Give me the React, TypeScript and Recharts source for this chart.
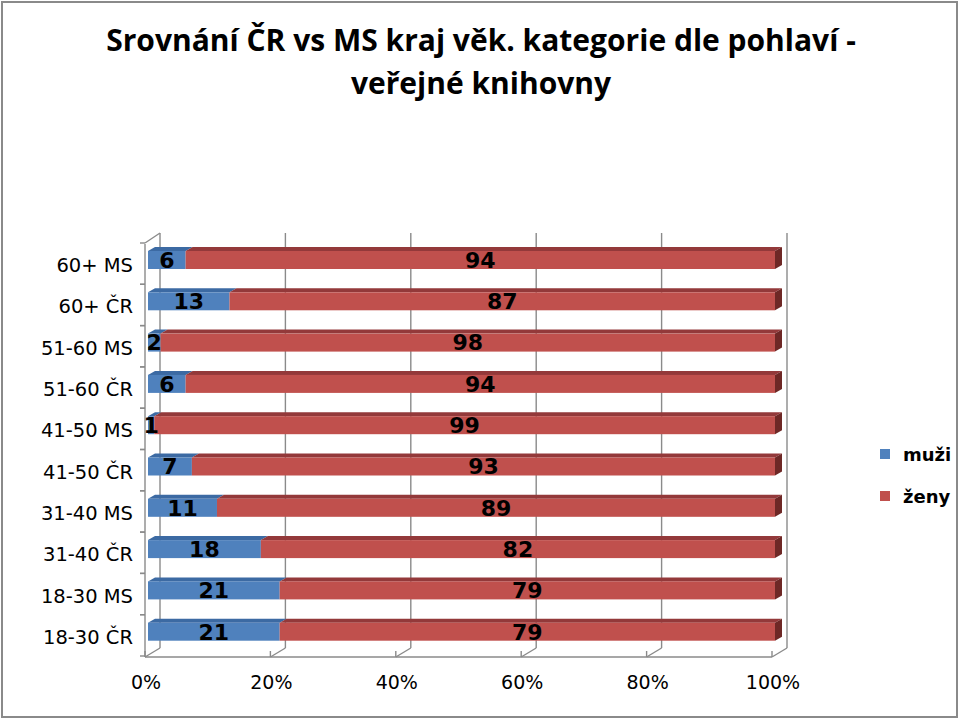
import React from 'react';
import { BarChart, Bar, XAxis, YAxis, CartesianGrid, Legend, LabelList } from 'recharts';

const categories = ['60+ MS', '60+ ČR', '51-60 MS', '51-60 ČR', '41-50 MS', '41-50 ČR', '31-40 MS', '31-40 ČR', '18-30 MS', '18-30 ČR'];
const muzi = [6, 13, 2, 6, 1, 7, 11, 18, 21, 21];
const zeny = [94, 87, 98, 94, 99, 93, 89, 82, 79, 79];
const xTicks = [0, 20, 40, 60, 80, 100];
const seriesNames = { muzi: 'muži', zeny: 'ženy' };
const titleLines = ['Srovnání ČR vs MS kraj věk. kategorie dle pohlaví -', 'veřejné knihovny'];

const data = categories.map((c, i) => ({ cat: c, muzi: muzi[i], zeny: zeny[i] }));

const DX = 7;
const DY = 4;
const GRID = '#8a8a8a';
const LABEL_FONT = '"DejaVu Sans", sans-serif';

const makeShape = (front: string, top: string, side: string | null) => (props: any) => {
  const { x, y, width, height } = props;
  if (width == null || height == null) return null;
  const w = Math.max(0, width);
  return (
    <g>
      <polygon points={`${x},${y} ${x + DX},${y - DY} ${x + w + DX},${y - DY} ${x + w},${y}`} fill={top} />
      {side && (
        <polygon points={`${x + w},${y} ${x + w + DX},${y - DY} ${x + w + DX},${y + height - DY} ${x + w},${y + height}`} fill={side} />
      )}
      <rect x={x} y={y} width={w} height={height} fill={front} />
    </g>
  );
};

const blueShape = makeShape('#4F81BD', '#3C6AA3', null);
const redShape = makeShape('#C0504D', '#93393A', '#6E2826');

const VerticalGridLine = (props: any) => {
  const { x1, y1, y2, index } = props;
  const bx = x1 + 12;
  const top = y1 - 6;
  const bottom = y2 - 4;
  return (
    <g>
      <line x1={bx} y1={top} x2={bx} y2={bottom} stroke={GRID} strokeWidth={1.4} />
      <line x1={bx} y1={bottom} x2={x1 - 3} y2={y2 + 5} stroke={GRID} strokeWidth={1.4} />
      {index === 0 && <line x1={x1 - 3} y1={y1 + 4} x2={bx} y2={top} stroke={GRID} strokeWidth={1.4} />}
    </g>
  );
};

const YTick = (props: any) => {
  const { x, y, payload } = props;
  const half = payload && payload.offset ? payload.offset : 20.65;
  const ax = x + 12;
  return (
    <g>
      <text x={x} y={y + 6} textAnchor="end" dominantBaseline="central" fontSize={19.5} fontFamily={LABEL_FONT} fill="#000">
        {payload.value}
      </text>
      <line x1={ax - 5} y1={y - half + 4} x2={ax} y2={y - half + 4} stroke={GRID} strokeWidth={1.4} />
      <line x1={ax - 5} y1={y + half + 4} x2={ax} y2={y + half + 4} stroke={GRID} strokeWidth={1.4} />
    </g>
  );
};

const XTick = (props: any) => {
  const { x, y, payload } = props;
  return (
    <g>
      <line x1={x - 3} y1={y - 8 - 6 + 5} x2={x - 3} y2={y - 8 + 5} stroke={GRID} strokeWidth={1.4} />
      <text x={x - 2} y={y + 22} textAnchor="middle" dominantBaseline="central" fontSize={19} fontFamily={LABEL_FONT} fill="#000">
        {`${payload.value}%`}
      </text>
    </g>
  );
};

const LegendContent = () => (
  <div style={{ fontFamily: LABEL_FONT, fontWeight: 'bold', fontSize: 18, color: '#000' }}>
    {[
      { name: seriesNames.muzi, color: '#4F81BD' },
      { name: seriesNames.zeny, color: '#C0504D' },
    ].map((e, i) => (
      <div key={i} style={{ display: 'flex', alignItems: 'center', height: 42 }}>
        <span style={{ display: 'inline-block', width: 10, height: 10, background: e.color, marginRight: 13 }} />
        <span>{e.name}</span>
      </div>
    ))}
  </div>
);

export default function App() {
  return (
    <div style={{ position: 'absolute', left: 0, top: 0, width: 960, height: 721, background: '#fff' }}>
      <div style={{ position: 'absolute', left: 1, top: 1, width: 957, height: 717, border: '2px solid #8a8a8a', boxSizing: 'border-box' }} />
      <div
        style={{
          position: 'absolute',
          left: 0,
          top: 18,
          width: 962,
          textAlign: 'center',
          fontFamily: '"Open Sans", sans-serif',
          fontWeight: 'bold',
          fontSize: 30,
          lineHeight: '43px',
          color: '#000',
        }}
      >
        {titleLines.map((t, i) => (
          <div key={i}>{t}</div>
        ))}
      </div>
      <div style={{ position: 'absolute', left: 0, top: 0 }}>
        <BarChart
          width={960}
          height={721}
          data={data}
          layout="vertical"
          margin={{ top: 239, right: 105, bottom: 29, left: 0 }}
          barCategoryGap={0}
        >
          <CartesianGrid horizontal={false} vertical={VerticalGridLine} />
          <XAxis
            type="number"
            domain={[0, 100]}
            ticks={xTicks}
            height={40}
            axisLine={{ stroke: GRID, strokeWidth: 1.4, transform: 'translate(-3,5)' }}
            tickLine={false}
            tick={XTick}
            interval={0}
          />
          <YAxis
            type="category"
            dataKey="cat"
            width={148}
            axisLine={{ stroke: GRID, strokeWidth: 1.4, transform: 'translate(-3,5)' }}
            tickLine={false}
            tickSize={0}
            tickMargin={15}
            tick={YTick}
            interval={0}
          />
          <Legend
            layout="vertical"
            verticalAlign="top"
            align="right"
            content={LegendContent}
            wrapperStyle={{ position: 'absolute', left: 880, top: 433, width: 80 }}
          />
          <Bar dataKey="muzi" name={seriesNames.muzi} stackId="a" barSize={18} fill="#4F81BD" shape={blueShape} isAnimationActive={false}>
            <LabelList dataKey="muzi" position="center" fill="#000" fontSize={22} fontWeight="bold" fontFamily={LABEL_FONT} />
          </Bar>
          <Bar dataKey="zeny" name={seriesNames.zeny} stackId="a" barSize={18} fill="#C0504D" shape={redShape} isAnimationActive={false}>
            <LabelList dataKey="zeny" position="center" fill="#000" fontSize={22} fontWeight="bold" fontFamily={LABEL_FONT} />
          </Bar>
        </BarChart>
      </div>
    </div>
  );
}
